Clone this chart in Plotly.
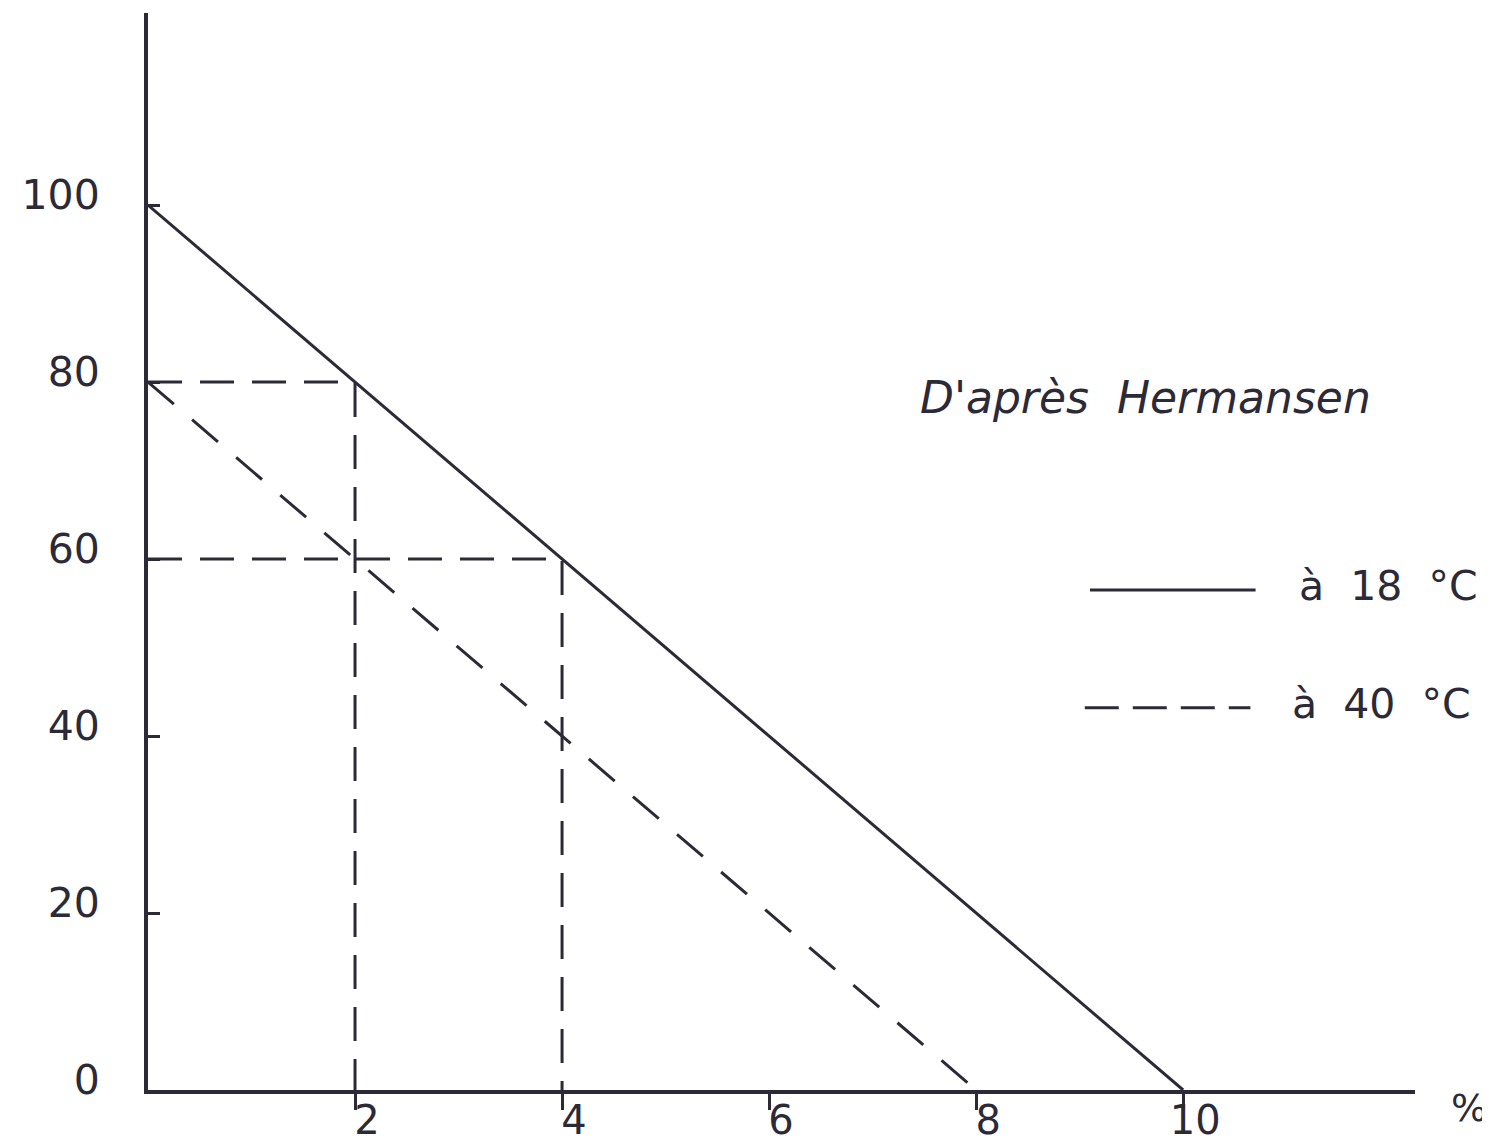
import plotly.graph_objects as go

# ---- data ----
pct_18 = [0, 10]
ret_18 = [100, 0]
pct_40 = [0, 8]
ret_40 = [80, 0]
guide_x = [2, 4]
guide_y = [80, 60]
x_ticks = [2, 4, 6, 8, 10]
x_tick_labels = ["2", "4", "6", "8", "10"]
y_ticks = [0, 20, 40, 60, 80, 100]
y_tick_labels = ["0", "20", "40", "60", "80", "100"]
legend_labels = ["à\u00a0\u00a018\u00a0\u00a0°C", "à\u00a0\u00a040\u00a0\u00a0°C"]
source_note = "D'après\u00a0\u00a0Hermansen"
unit_label = "%"

INK = "#2b2a36"
FONT = "DejaVu Sans"

fig = go.Figure()

# guide lines (dashed)
for gx, gy in zip(guide_x, guide_y):
    fig.add_trace(go.Scatter(x=[0, gx, gx], y=[gy, gy, 0], mode="lines",
                             line=dict(color=INK, width=3, dash="34px,18px"),
                             showlegend=False, hoverinfo="skip"))

fig.add_trace(go.Scatter(x=pct_18, y=ret_18, mode="lines",
                         line=dict(color=INK, width=3),
                         name=legend_labels[0], showlegend=False))
fig.add_trace(go.Scatter(x=pct_40, y=ret_40, mode="lines",
                         line=dict(color=INK, width=3, dash="34px,24px"),
                         name=legend_labels[1], showlegend=False))

# legend samples
fig.add_shape(type="line", xref="x", yref="y", x0=9.10, x1=10.70, y0=56.5, y1=56.5,
              line=dict(color=INK, width=3))
fig.add_shape(type="line", xref="x", yref="y", x0=9.05, x1=10.65, y0=43.2, y1=43.2,
              line=dict(color=INK, width=3, dash="34px,14px"))
fig.add_annotation(x=11.10, y=56.9, xref="x", yref="y", text=legend_labels[0],
                   showarrow=False, xanchor="left", yanchor="middle",
                   font=dict(family=FONT, size=41, color=INK))
fig.add_annotation(x=11.03, y=43.6, xref="x", yref="y", text=legend_labels[1],
                   showarrow=False, xanchor="left", yanchor="middle",
                   font=dict(family=FONT, size=41, color=INK))
fig.add_annotation(x=7.44, y=78.3, xref="x", yref="y", text="<i>" + source_note + "</i>",
                   showarrow=False, xanchor="left", yanchor="middle",
                   font=dict(family=FONT, size=44, color=INK))
fig.add_annotation(x=1.043, y=-0.017, xref="paper", yref="paper", text=unit_label,
                   showarrow=False, xanchor="center", yanchor="middle",
                   font=dict(family=FONT, size=38, color=INK))

fig.update_layout(
    width=1482, height=1138,
    margin=dict(l=140, r=75, t=5, b=56),
    paper_bgcolor="white", plot_bgcolor="white",
    xaxis=dict(range=[0, 12.24], showgrid=False, zeroline=False, automargin=False,
               showline=True, linewidth=4, linecolor=INK,
               tickvals=x_ticks, ticktext=x_tick_labels,
               ticks="outside", ticklen=16, tickwidth=3, tickcolor=INK,
               ticklabelstandoff=-24, ticklabelshift=12,
               tickfont=dict(family=FONT, size=40, color=INK)),
    yaxis=dict(range=[0, 121.7], showgrid=False, zeroline=False, automargin=False,
               showline=True, linewidth=4, linecolor=INK,
               tickvals=y_ticks, ticktext=y_tick_labels,
               ticks="inside", ticklen=12, tickwidth=3, tickcolor=INK,
               ticklabelstandoff=36, ticklabelshift=-10,
               tickfont=dict(family=FONT, size=41, color=INK)),
    showlegend=False,
)

fig.write_html("out.html")
